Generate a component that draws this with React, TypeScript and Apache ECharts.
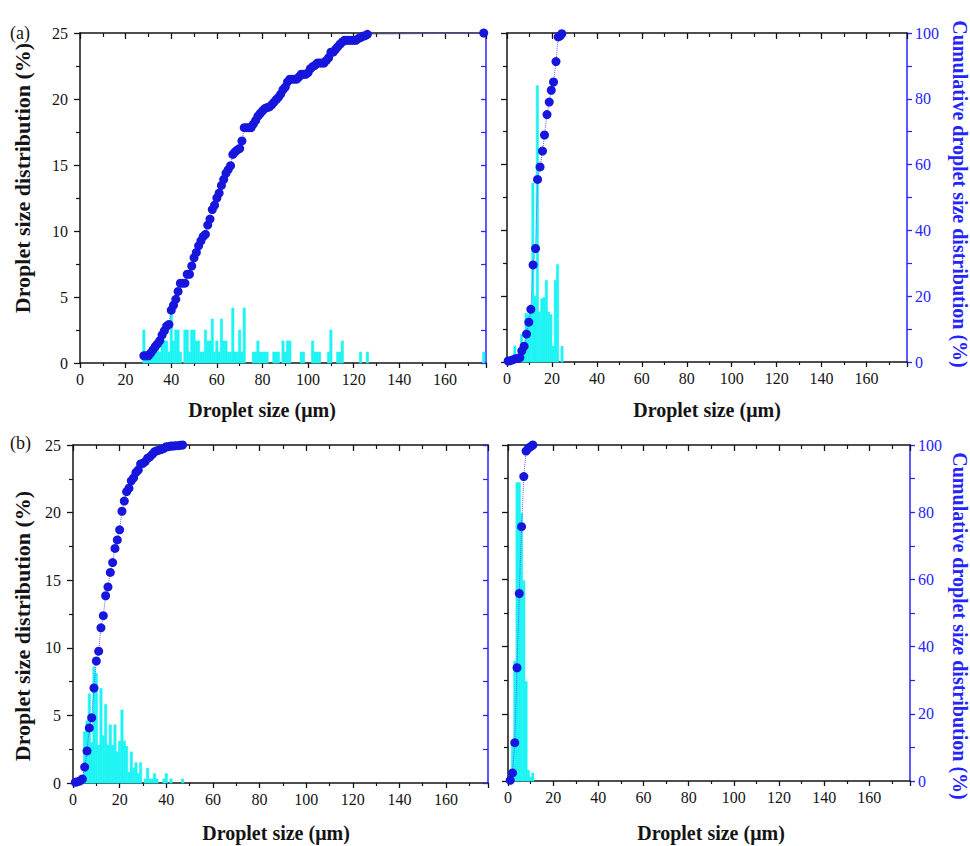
import React, { useEffect, useRef } from 'react';
import * as echarts from 'echarts';

const FONT = "'Liberation Serif', 'Times New Roman', Times, serif";
const BLACK = '#141414';
const AXIS_BLUE = '#2424ff';
const DOT_BLUE = '#1616dc';
const LINE_BLUE = '#5a5aff';
const CYAN = '#1ef4f4';

const X_MAX = 178;
const X_TICK_LABELS = ['0', '20', '40', '60', '80', '100', '120', '140', '160'];
const LEFT_TICK_LABELS = ['0', '5', '10', '15', '20', '25'];
const RIGHT_TICK_LABELS = ['0', '20', '40', '60', '80', '100'];
const PANEL_LABELS = ['(a)', '(b)'];
const X_TITLE = 'Droplet size (μm)';
const LEFT_TITLE = 'Droplet size distribution (%)';
const RIGHT_TITLE = 'Cumulative droplet size distribution (%)';

// Histogram bins: [bin centre (µm), share (%)]
const A_LEFT_HIST = [
  [28, 2.5], [29, 0.83], [30, 0.83], [31, 0.83], [32, 0.83], [33, 1.67], [34, 1.67], [35, 0.83],
  [36, 1.67], [37, 1.67], [38, 1.67], [39, 0.83], [40, 3.75], [41, 1.67], [42, 2.5], [43, 2.5],
  [44, 0.83], [46, 2.5], [47, 2.5], [48, 0.83], [49, 2.5], [50, 2.5], [51, 1.67], [52, 1.67],
  [53, 0.83], [54, 0.83], [55, 2.5], [56, 1.67], [57, 1.67], [58, 3.33], [59, 0.83], [60, 1.67],
  [61, 0.83], [62, 3.33], [63, 1.67], [64, 1.67], [65, 0.83], [66, 0.83], [67, 4.17], [68, 0.83],
  [69, 0.83], [70, 2.5], [71, 0.83], [72, 4.17], [76, 0.83], [77, 0.83], [78, 1.67], [79, 0.83],
  [80, 0.83], [81, 0.83], [82, 0.83], [85, 0.83], [86, 0.83], [87, 0.83], [89, 1.67], [90, 0.83],
  [91, 1.67], [92, 1.67], [97, 0.83], [98, 0.83], [102, 1.67], [103, 0.83], [104, 0.83], [105, 0.83],
  [109, 0.83], [110, 2.5], [113, 0.83], [114, 0.83], [115, 1.67], [123, 0.83], [126, 0.83], [177, 0.83],
];
const A_LEFT_CUM = [
  [28, 2.2], [29, 2.2], [30, 2.2], [31, 3.0], [32, 4.0], [33, 5.0], [34, 5.8], [35, 6.8], [36, 8.5],
  [37, 9.8], [38, 11.2], [39, 11.7], [40, 16.0], [41, 17.5], [42, 19.3], [43, 21.7], [44, 24.2],
  [45, 24.2], [46, 24.2], [47, 26.9], [48, 26.9], [49, 29.4], [50, 31.9], [51, 33.5], [52, 35.5],
  [53, 37.0], [54, 38.3], [55, 39.0], [56, 41.8], [57, 43.6], [58, 46.5], [59, 47.8], [60, 50.0],
  [61, 51.5], [62, 53.8], [63, 55.6], [64, 57.5], [65, 58.6], [66, 59.8], [67, 63.2], [68, 64.0],
  [69, 64.6], [70, 65.0], [71, 67.3], [72, 71.3], [73, 71.3], [74, 71.3], [75, 71.3], [76, 72.4],
  [77, 73.5], [78, 74.8], [79, 75.6], [80, 76.4], [81, 77.1], [82, 77.4], [83, 77.6], [84, 78.2],
  [85, 79.0], [86, 79.8], [87, 80.5], [88, 81.5], [89, 82.8], [90, 83.6], [91, 85.2], [92, 86.0],
  [93, 86.0], [94, 86.0], [95, 86.0], [96, 86.7], [97, 87.5], [98, 87.5], [99, 87.5], [100, 88.0],
  [101, 89.2], [102, 89.8], [103, 90.2], [104, 90.9], [105, 90.9], [106, 90.9], [107, 90.9],
  [108, 91.7], [109, 92.5], [110, 94.2], [111, 94.2], [112, 95.0], [113, 95.8], [114, 96.6],
  [115, 97.3], [116, 97.8], [117, 97.8], [118, 97.8], [119, 97.8], [120, 97.8], [121, 97.8],
  [122, 98.3], [123, 98.6], [124, 99.0], [125, 99.2], [126, 99.6], [177, 100],
];

const A_RIGHT_HIST = [
  [3.5, 1.2], [6.5, 2.1], [7.5, 1.4], [8.5, 3.7], [9.5, 3.6], [10.5, 3.9], [11.5, 13.6], [12.5, 5.0],
  [13.5, 21.0], [14.5, 3.8], [15.5, 4.8], [16.5, 4.9], [17.5, 6.2], [18.5, 3.8], [19.5, 3.6],
  [20.5, 1.2], [21.5, 6.2], [22.5, 7.4], [24.5, 1.2],
];
const A_RIGHT_CUM = [
  [0.5, 0.3], [1.5, 0.4], [2.7, 0.7], [3.8, 1.0], [4.8, 1.1], [5.7, 1.3], [6.6, 3.4], [7.6, 4.8],
  [8.7, 8.5], [9.7, 12.1], [10.6, 16.0], [11.6, 29.5], [12.7, 34.5], [13.6, 55.5], [14.7, 59.3],
  [15.8, 64.1], [16.7, 69.0], [17.8, 75.2], [18.8, 79.0], [19.7, 82.6], [20.7, 85.1], [21.8, 91.3],
  [22.8, 98.8], [23.6, 99.1], [24.4, 99.8],
];

const B_LEFT_HIST = [
  [4, 0.5], [5, 3.8], [6, 4.6], [7, 6.6], [8, 3.0], [9, 8.6], [10, 8.1], [11, 2.8], [12, 7.0],
  [13, 3.5], [14, 5.8], [15, 2.8], [16, 4.3], [17, 2.8], [18, 4.3], [19, 2.3], [20, 3.1], [21, 5.4],
  [22, 3.1], [23, 2.7], [24, 0.8], [25, 2.3], [26, 1.1], [27, 1.5], [28, 0.7], [29, 1.5], [31, 0.3],
  [32, 1.1], [33, 0.3], [34, 0.3], [35, 0.7], [36, 0.3], [39, 0.3], [40, 0.7], [42, 0.3], [47, 0.3],
];
const B_LEFT_CUM = [
  [1, 0.2], [2, 0.4], [3, 0.6], [4, 1.2], [5, 4.7], [6, 9.5], [7, 16.3], [8, 19.3], [9, 28.1],
  [10, 36.1], [11, 39.0], [12, 45.9], [13, 49.5], [14, 55.4], [15, 58.0], [16, 62.3], [17, 65.2],
  [18, 69.4], [19, 71.9], [20, 74.9], [21, 80.4], [22, 83.4], [23, 86.2], [24, 87.2], [25, 89.4],
  [26, 90.3], [27, 91.9], [28, 92.6], [29, 94.4], [30, 94.6], [31, 95.1], [32, 96.1], [33, 96.5],
  [34, 97.2], [35, 98.0], [36, 98.3], [37, 98.5], [38, 98.7], [39, 99.0], [40, 99.5], [41, 99.5],
  [42, 99.7], [43, 99.7], [44, 99.8], [45, 99.8], [46, 99.9], [47, 100],
];

const B_RIGHT_HIST = [
  [1, 0.3], [2, 2.7], [3, 8.9], [4, 22.2], [5, 22.2], [6, 19.9], [7, 14.9], [8, 7.4], [9, 0.8],
  [10, 0.3], [11, 0.6],
];
const B_RIGHT_CUM = [
  [1, 0.2], [2, 2.4], [3, 11.4], [4, 33.7], [5, 55.8], [6, 75.7], [7, 90.6], [8, 98.2], [9, 99.0],
  [10, 99.5], [11, 100],
];

const PANELS = [
  { hist: A_LEFT_HIST, cum: A_LEFT_CUM, isLeft: true },
  { hist: A_RIGHT_HIST, cum: A_RIGHT_CUM, isLeft: false },
  { hist: B_LEFT_HIST, cum: B_LEFT_CUM, isLeft: true },
  { hist: B_RIGHT_HIST, cum: B_RIGHT_CUM, isLeft: false },
];

const GRIDS = [
  { left: 80, top: 33, width: 406, height: 330 },
  { left: 507, top: 33, width: 400, height: 329 },
  { left: 73, top: 445, width: 415, height: 338 },
  { left: 508, top: 445, width: 402, height: 336 },
];

function buildOption() {
  const xAxis: any[] = [];
  const yAxis: any[] = [];
  const series: any[] = [];
  const labelStyle = { fontFamily: FONT, fontSize: 16 };

  PANELS.forEach((p, g) => {
    xAxis.push({
      gridIndex: g, type: 'value', position: 'bottom', min: 0, max: X_MAX, interval: 20,
      axisLine: { show: true, onZero: false, lineStyle: { color: BLACK, width: 1.5 } },
      axisTick: { show: true, length: 5, lineStyle: { color: BLACK, width: 1.3 } },
      minorTick: { show: true, splitNumber: 2, length: 3, lineStyle: { color: BLACK, width: 1.2 } },
      axisLabel: {
        ...labelStyle, color: BLACK, margin: 8, showMaxLabel: false,
        formatter: (v: number) => (X_TICK_LABELS.includes(String(v)) ? String(v) : ''),
      },
      splitLine: { show: false }, minorSplitLine: { show: false },
    });
    xAxis.push({
      gridIndex: g, type: 'value', position: 'top', min: 0, max: X_MAX, interval: 20,
      axisLine: { show: true, onZero: false, lineStyle: { color: BLACK, width: 1.5 } },
      axisTick: { show: true, inside: true, length: 6, lineStyle: { color: BLACK, width: 1.3 } },
      minorTick: { show: true, splitNumber: 2, length: 4, lineStyle: { color: BLACK, width: 1.2 } },
      axisLabel: { show: false }, splitLine: { show: false },
    });
    yAxis.push({
      gridIndex: g, type: 'value', position: 'left', min: 0, max: 25, interval: 5,
      axisLine: { show: true, onZero: false, lineStyle: { color: BLACK, width: 1.5 } },
      axisTick: { show: true, length: 6, lineStyle: { color: BLACK, width: 1.3 } },
      minorTick: { show: true, splitNumber: 2, length: 4, lineStyle: { color: BLACK, width: 1.2 } },
      axisLabel: {
        show: p.isLeft, ...labelStyle, color: BLACK, margin: 12,
        formatter: (v: number) => (LEFT_TICK_LABELS.includes(String(v)) ? String(v) : ''),
      },
      splitLine: { show: false },
    });
    yAxis.push({
      gridIndex: g, type: 'value', position: 'right', min: 0, max: 100, interval: 20,
      axisLine: { show: true, onZero: false, lineStyle: { color: AXIS_BLUE, width: 1.5 } },
      axisTick: { show: true, inside: p.isLeft, length: 5, lineStyle: { color: AXIS_BLUE, width: 1.3 } },
      minorTick: { show: true, splitNumber: 2, length: 5, lineStyle: { color: AXIS_BLUE, width: 1.2 } },
      axisLabel: {
        show: !p.isLeft, ...labelStyle, color: AXIS_BLUE, margin: 8,
        formatter: (v: number) => (RIGHT_TICK_LABELS.includes(String(v)) ? String(v) : ''),
      },
      splitLine: { show: false },
    });

    series.push({
      type: 'custom',
      xAxisIndex: 2 * g,
      yAxisIndex: 2 * g,
      data: p.hist,
      encode: { x: 0, y: 1 },
      z: 2,
      silent: true,
      renderItem: (params: any, api: any) => {
        const c = api.value(0);
        const h = api.value(1);
        const p0 = api.coord([c - 0.5, 0]);
        const p1 = api.coord([c + 0.5, h]);
        return {
          type: 'rect',
          shape: { x: p0[0], y: p1[1], width: p1[0] - p0[0], height: p0[1] - p1[1] },
          style: { fill: CYAN, stroke: CYAN, lineWidth: 0.6 },
        };
      },
    });
    series.push({
      type: 'line',
      xAxisIndex: 2 * g,
      yAxisIndex: 2 * g + 1,
      data: p.cum,
      symbol: 'circle',
      symbolSize: 9,
      showSymbol: true,
      showAllSymbol: true,
      clip: false,
      z: 3,
      silent: true,
      itemStyle: { color: DOT_BLUE },
      lineStyle: { color: LINE_BLUE, width: 1, type: 'dotted' },
    });
  });

  const titleFont = { fontFamily: FONT, fontWeight: 'bold' };
  const graphic: any[] = [
    { type: 'text', x: 10, y: 33, style: { text: PANEL_LABELS[0], fontFamily: FONT, fontSize: 18, fill: BLACK, verticalAlign: 'middle' } },
    { type: 'text', x: 10, y: 443, style: { text: PANEL_LABELS[1], fontFamily: FONT, fontSize: 18, fill: BLACK, verticalAlign: 'middle' } },
    { type: 'text', x: 22, y: 178, rotation: Math.PI / 2, style: { text: LEFT_TITLE, ...titleFont, fontSize: 22, fill: BLACK, align: 'center', verticalAlign: 'middle' } },
    { type: 'text', x: 22, y: 626, rotation: Math.PI / 2, style: { text: LEFT_TITLE, ...titleFont, fontSize: 22, fill: BLACK, align: 'center', verticalAlign: 'middle' } },
    { type: 'text', x: 960, y: 194, rotation: -Math.PI / 2, style: { text: RIGHT_TITLE, ...titleFont, fontSize: 20, fill: AXIS_BLUE, align: 'center', verticalAlign: 'middle' } },
    { type: 'text', x: 960, y: 626, rotation: -Math.PI / 2, style: { text: RIGHT_TITLE, ...titleFont, fontSize: 20, fill: AXIS_BLUE, align: 'center', verticalAlign: 'middle' } },
    { type: 'text', x: 262, y: 410, style: { text: X_TITLE, ...titleFont, fontSize: 20, fill: BLACK, align: 'center', verticalAlign: 'middle' } },
    { type: 'text', x: 707, y: 410, style: { text: X_TITLE, ...titleFont, fontSize: 20, fill: BLACK, align: 'center', verticalAlign: 'middle' } },
    { type: 'text', x: 276, y: 833, style: { text: X_TITLE, ...titleFont, fontSize: 20, fill: BLACK, align: 'center', verticalAlign: 'middle' } },
    { type: 'text', x: 711, y: 833, style: { text: X_TITLE, ...titleFont, fontSize: 20, fill: BLACK, align: 'center', verticalAlign: 'middle' } },
  ];

  return {
    animation: false,
    backgroundColor: '#ffffff',
    grid: GRIDS.map((gr) => ({ ...gr, containLabel: false })),
    xAxis,
    yAxis,
    series,
    graphic,
  };
}

export default function App() {
  const ref = useRef<HTMLDivElement>(null);
  useEffect(() => {
    if (!ref.current) return;
    const chart = echarts.init(ref.current, undefined, { renderer: 'svg' });
    chart.setOption(buildOption() as any);
    return () => chart.dispose();
  }, []);
  return (
    <div
      ref={ref}
      style={{ position: 'absolute', left: 0, top: 0, width: 970, height: 846, background: '#fff' }}
    />
  );
}
